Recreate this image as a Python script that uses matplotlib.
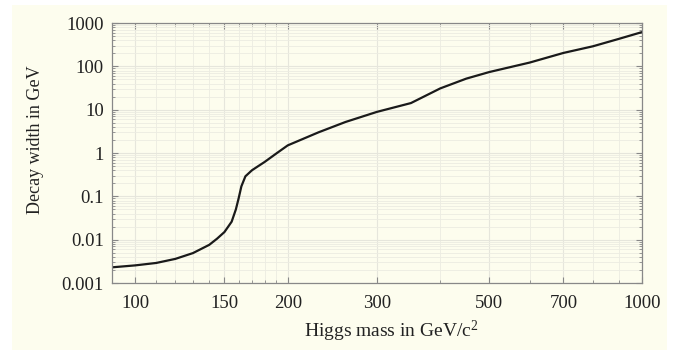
import matplotlib
matplotlib.use("Agg")
import matplotlib.pyplot as plt
from matplotlib.patches import Rectangle
from matplotlib.ticker import FixedLocator, NullFormatter, LogLocator

# Data
mass = [90, 100, 110, 120, 130, 140, 145, 150, 155, 158, 160, 162, 165, 170,
        175, 180, 190, 200, 230, 260, 300, 350, 400, 450, 500, 600, 700, 800,
        900, 1000]
width = [0.0023, 0.00255, 0.0029, 0.0036, 0.0049, 0.0076, 0.0105, 0.015,
         0.026, 0.05, 0.09, 0.17, 0.29, 0.40, 0.50, 0.62, 0.98, 1.5, 3.0, 5.2,
         8.9, 14.2, 31, 52, 74, 122, 204, 290, 430, 617]

x_major = [100, 150, 200, 300, 500, 700, 1000]
x_major_labels = ["100", "150", "200", "300", "500", "700", "1000"]
x_minor = [90, 110, 120, 130, 140, 160, 170, 180, 190, 400, 600, 800, 900]
y_major = [0.001, 0.01, 0.1, 1, 10, 100, 1000]
y_major_labels = ["0.001", "0.01", "0.1", "1", "10", "100", "1000"]

cream = "#fdfdee"
plt.rcParams['font.family'] = ['Liberation Serif', 'DejaVu Serif']
plt.rcParams['mathtext.fontset'] = 'custom'
plt.rcParams['mathtext.rm'] = 'Liberation Serif'
plt.rcParams['mathtext.it'] = 'Liberation Serif:italic'
plt.rcParams['mathtext.bf'] = 'Liberation Serif:bold'

fig = plt.figure(figsize=(6.75, 3.52), dpi=100, facecolor="white")
fig.patches.append(Rectangle((12/675, 2/352), 655/675, 345/352,
                             transform=fig.transFigure, facecolor=cream,
                             edgecolor="none", zorder=-10))
ax = fig.add_axes([112/675, 1-283/352, 530/675, 260/352])
ax.set_facecolor(cream)

ax.plot(mass, width, color="#1a1a1a", lw=1.6, solid_capstyle="round",
        solid_joinstyle="round")

ax.set_xscale("log")
ax.set_yscale("log")
ax.set_xlim(90, 1000)
ax.set_ylim(0.001, 1000)

ax.xaxis.set_major_locator(FixedLocator(x_major))
ax.set_xticklabels(x_major_labels)
ax.xaxis.set_minor_locator(FixedLocator(x_minor))
ax.xaxis.set_minor_formatter(NullFormatter())
ax.yaxis.set_major_locator(FixedLocator(y_major))
ax.set_yticklabels(y_major_labels)
ax.yaxis.set_minor_locator(LogLocator(base=10, subs=range(2, 10)))
ax.yaxis.set_minor_formatter(NullFormatter())

ax.grid(True, which="major", color="#e6e6dc", lw=0.8)
ax.grid(True, which="minor", color="#ececE2", lw=0.6)
ax.set_axisbelow(True)

ax.tick_params(which="both", direction="in", top=True, right=True,
               color="#888888", labelsize=13.5, labelcolor="#222222")
ax.tick_params(which="major", length=4)
ax.tick_params(which="minor", length=2.5)
ax.tick_params(axis="x", pad=9)
ax.tick_params(axis="y", pad=6)
for s in ax.spines.values():
    s.set_color("#888888")
    s.set_linewidth(0.9)

ax.set_xlabel("Higgs mass in GeV/c$^{\\mathrm{2}}$", fontsize=14, color="#222222")
ax.set_ylabel("Decay width in GeV", fontsize=13, color="#222222")
ax.xaxis.set_label_coords((391 - 112) / 530, (283 - 319) / 260)
ax.yaxis.set_label_coords((44 - 112) / 530, (283 - 140) / 260)

fig.savefig("out.png", dpi=100, facecolor="white")
